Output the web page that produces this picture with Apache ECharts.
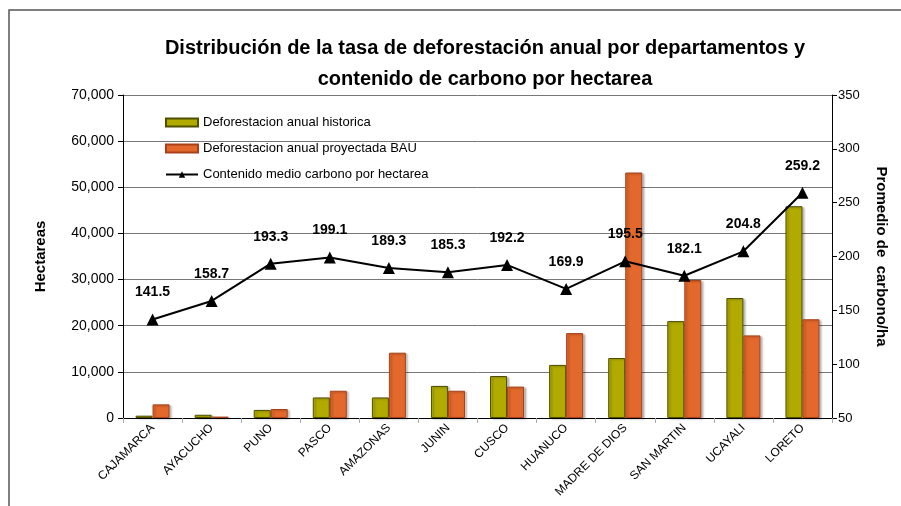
<!DOCTYPE html>
<html>
<head>
<meta charset="utf-8">
<script src="https://cdn.jsdelivr.net/npm/echarts@6/dist/echarts.min.js"></script>
<style>
  html, body { margin: 0; padding: 0; background: #fff; }
  #chart { width: 901px; height: 506px; }
</style>
</head>
<body>
<div id="chart"></div>
<script>
// data
const departamentos = ['CAJAMARCA', 'AYACUCHO', 'PUNO', 'PASCO', 'AMAZONAS', 'JUNIN',
  'CUSCO', 'HUANUCO', 'MADRE DE DIOS', 'SAN MARTIN', 'UCAYALI', 'LORETO'];
const historica = [500, 700, 1750, 4450, 4450, 6950, 9100, 11500, 13000, 21000, 26000, 45900];
const proyectadaBAU = [2950, 300, 1950, 5900, 14150, 5900, 6800, 18400, 53200, 29900, 17900, 21400];
const carbono = [141.5, 158.7, 193.3, 199.1, 189.3, 185.3, 192.2, 169.9, 195.5, 182.1, 204.8, 259.2];

const chart = echarts.init(document.getElementById('chart'));
const font = 'Liberation Sans';

chart.setOption({
  backgroundColor: '#fff',
  animation: false,
  title: {
    text: 'Distribución de la tasa de deforestación anual por departamentos y\ncontenido de carbono por hectarea',
    left: 480, top: 28, textAlign: 'center',
    textStyle: { fontFamily: font, fontSize: 20, fontWeight: 'bold', color: '#000', lineHeight: 31 }
  },
  graphic: [{
    type: 'polyline',
    shape: { points: [[9, 506], [9, 10], [901, 10]] },
    style: { stroke: '#555', lineWidth: 1.5, fill: null }
  }],
  legend: {
    orient: 'vertical', left: 160, top: 111, itemGap: 13,
    itemWidth: 32, itemHeight: 8,
    textStyle: { fontFamily: font, fontSize: 13, color: '#000' },
    data: [
      { name: 'Deforestacion anual historica', icon: 'rect' },
      { name: 'Deforestacion anual proyectada BAU', icon: 'rect' },
      { name: 'Contenido medio carbono por hectarea' }
    ]
  },
  grid: { left: 123, right: 69, top: 95, bottom: 88 },
  xAxis: {
    type: 'category', data: departamentos,
    axisLine: { lineStyle: { color: '#000', width: 1 } },
    axisTick: { show: true, length: 5, lineStyle: { color: '#aaa' } },
    axisLabel: { rotate: 45, interval: 0, fontFamily: font, fontSize: 12, color: '#000', margin: 8 }
  },
  yAxis: [{
    type: 'value', min: 0, max: 70000, interval: 10000,
    name: 'Hectareas', nameLocation: 'middle', nameGap: 75, nameRotate: 90,
    nameTextStyle: { fontFamily: font, fontSize: 15, fontWeight: 'bold', color: '#000' },
    axisLine: { show: true, lineStyle: { color: '#000' } },
    axisTick: { show: true, inside: false, length: 5, lineStyle: { color: '#000' } },
    axisLabel: {
      fontFamily: font, fontSize: 14, color: '#000', margin: 9,
      formatter: v => v.toLocaleString('en-US')
    },
    splitLine: { show: true, lineStyle: { color: '#777', width: 1 } }
  }, {
    type: 'value', min: 50, max: 350, interval: 50,
    name: 'Promedio de  carbono/ha', nameLocation: 'middle', nameGap: 42, nameRotate: -90,
    nameTextStyle: { fontFamily: font, fontSize: 15, fontWeight: 'bold', color: '#000' },
    axisLine: { show: true, lineStyle: { color: '#000' } },
    axisTick: { show: true, length: 5, lineStyle: { color: '#000' } },
    axisLabel: { fontFamily: font, fontSize: 13, color: '#000', margin: 6 },
    splitLine: { show: false }
  }],
  series: [{
    name: 'Deforestacion anual historica', type: 'bar', data: historica,
    barWidth: 17, barGap: '0%',
    itemStyle: { color: '#b1ab00', borderColor: '#4f4f00', borderWidth: 1,
      shadowColor: 'rgba(0,0,0,0.25)', shadowOffsetX: 2, shadowOffsetY: 1, shadowBlur: 2 }
  }, {
    name: 'Deforestacion anual proyectada BAU', type: 'bar', data: proyectadaBAU,
    barWidth: 17,
    itemStyle: { color: '#e3682b', borderColor: '#a8401a', borderWidth: 1,
      shadowColor: 'rgba(0,0,0,0.25)', shadowOffsetX: 2, shadowOffsetY: 1, shadowBlur: 2 }
  }, {
    name: 'Contenido medio carbono por hectarea', type: 'line', yAxisIndex: 1, data: carbono,
    symbol: 'triangle', symbolSize: 12,
    lineStyle: { color: '#000', width: 2 },
    itemStyle: { color: '#000' },
    label: {
      show: true, position: 'top', distance: 14,
      fontFamily: font, fontSize: 14, fontWeight: 'bold', color: '#000'
    }
  }]
});
</script>
</body>
</html>
